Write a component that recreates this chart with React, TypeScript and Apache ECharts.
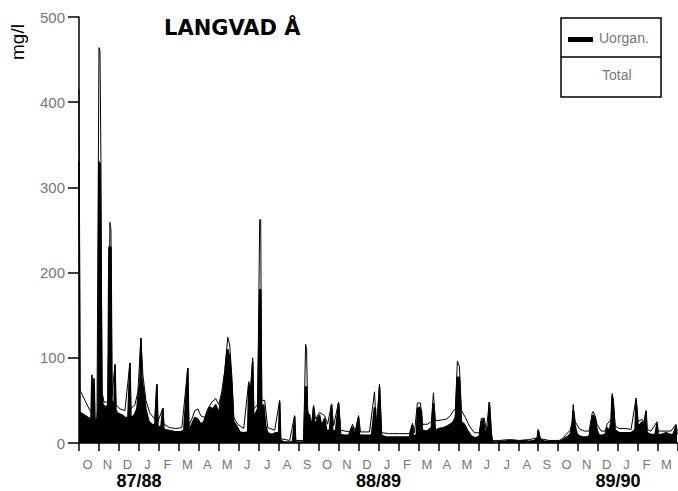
import React, { useEffect, useRef } from "react";
import * as echarts from "echarts";

// x values are months counted from 1 Oct 1987
const monthLabels = [
  "O", "N", "D", "J", "F", "M", "A", "M", "J", "J", "A", "S",
  "O", "N", "D", "J", "F", "M", "A", "M", "J", "J", "A", "S",
  "O", "N", "D", "J", "F", "M",
];
const yearLabels = ["87/88", "88/89", "89/90"];
const yearStarts = [3, 15, 27];
const yTicks = [0, 100, 200, 300, 400, 500];
const seriesNames = ["Uorgan.", "Total"];
const titleText = "LANGVAD Å";
const unitText = "mg/l";

const uorgan8788: number[][] = [
  [0, 330], [0.05, 36], [0.25, 33], [0.45, 30], [0.6, 28], [0.65, 80], [0.7, 30], [0.75, 76], [0.8, 28], [0.9, 27], [0.95, 40],
  [1.0, 330], [1.05, 328], [1.1, 200], [1.15, 60], [1.2, 45], [1.35, 42], [1.45, 45], [1.5, 230], [1.55, 230], [1.6, 230], [1.65, 50],
  [1.75, 40], [1.8, 92], [1.85, 38], [1.95, 35], [2.15, 33], [2.3, 30], [2.45, 30], [2.55, 94], [2.6, 30], [2.75, 32], [2.9, 40],
  [3.0, 65], [3.05, 70], [3.1, 123], [3.15, 75], [3.25, 60], [3.35, 40], [3.5, 25], [3.65, 22], [3.8, 21], [3.9, 69], [3.95, 20],
  [4.1, 18], [4.2, 41], [4.25, 16], [4.45, 15], [4.65, 14], [4.85, 13], [5.05, 13], [5.25, 15], [5.45, 88], [5.5, 15], [5.65, 22],
  [5.8, 30], [5.95, 28], [6.1, 22], [6.25, 25], [6.4, 35], [6.55, 42], [6.7, 40], [6.85, 45], [7.0, 35], [7.1, 50], [7.2, 60],
  [7.3, 80], [7.4, 105], [7.45, 110], [7.55, 100], [7.65, 70], [7.75, 25], [7.9, 20], [8.05, 13], [8.25, 12], [8.45, 13],
  [8.5, 68], [8.6, 60], [8.7, 95], [8.75, 30], [8.85, 35], [8.95, 40], [9.05, 180], [9.1, 180], [9.15, 40], [9.25, 45], [9.35, 20],
  [9.45, 12], [9.65, 10], [9.85, 12], [10.0, 12], [10.05, 48], [10.1, 3], [10.3, 1], [10.55, 1], [10.7, 2], [10.8, 31], [10.85, 1],
  [11.05, 1], [11.25, 1], [11.35, 66], [11.4, 66], [11.45, 33], [11.55, 33], [11.65, 15], [11.75, 42], [11.8, 20], [11.95, 29],
];
const uorgan8889: number[][] = [
  [12.05, 33], [12.15, 20], [12.3, 29], [12.4, 15], [12.55, 15], [12.65, 45], [12.7, 15], [12.85, 14], [13.0, 47], [13.1, 10],
  [13.3, 9], [13.5, 9], [13.7, 19], [13.8, 9], [14.0, 30], [14.05, 9], [14.25, 9], [14.45, 9], [14.65, 9], [14.8, 42], [14.85, 40],
  [14.9, 9], [15.05, 66], [15.15, 9], [15.35, 7], [15.55, 7], [15.8, 7], [16.05, 7], [16.3, 7], [16.55, 7], [16.7, 21], [16.75, 7],
  [16.9, 10], [16.95, 40], [17.05, 42], [17.15, 38], [17.2, 15], [17.35, 14], [17.5, 15], [17.65, 18], [17.75, 47], [17.85, 15],
  [18.05, 17], [18.25, 18], [18.45, 20], [18.6, 22], [18.75, 25], [18.85, 30], [18.95, 77], [19.05, 77], [19.15, 25], [19.3, 22],
  [19.45, 15], [19.65, 8], [19.85, 6], [20.05, 8], [20.15, 25], [20.25, 28], [20.35, 10], [20.5, 20], [20.55, 48], [20.65, 10],
  [20.7, 1], [20.9, 1], [21.05, 2], [21.3, 2], [21.55, 3], [21.8, 3], [22.05, 2], [22.3, 3], [22.55, 2], [22.8, 3], [22.95, 5],
  [23.0, 15], [23.1, 4], [23.3, 2], [23.55, 2], [23.8, 2],
];
const uorgan8990: number[][] = [
  [24.05, 2], [24.2, 3], [24.35, 6], [24.5, 8], [24.6, 10], [24.7, 20], [24.75, 38], [24.85, 20], [24.95, 10], [25.1, 8],
  [25.25, 7], [25.4, 7], [25.55, 8], [25.7, 28], [25.75, 33], [25.85, 28], [25.95, 15], [26.05, 9], [26.2, 9], [26.35, 10],
  [26.45, 18], [26.55, 14], [26.65, 25], [26.7, 55], [26.75, 50], [26.85, 15], [27.05, 12], [27.25, 12], [27.45, 12], [27.65, 12],
  [27.85, 15], [27.9, 50], [28.0, 20], [28.1, 22], [28.2, 25], [28.3, 20], [28.4, 37], [28.45, 12], [28.65, 10], [28.85, 10],
  [28.95, 23], [29.0, 10], [29.2, 10], [29.4, 12], [29.6, 10], [29.75, 10], [29.9, 20], [29.95, 10],
];

const total8788: number[][] = [
  [0, 415], [0.05, 62], [0.3, 50], [0.55, 38], [0.8, 28], [0.9, 26], [1.0, 464], [1.05, 460], [1.1, 330], [1.15, 60], [1.25, 48],
  [1.45, 48], [1.55, 259], [1.6, 250], [1.65, 55], [1.8, 92], [1.85, 45], [2.05, 40], [2.3, 38], [2.55, 94], [2.6, 40], [2.8, 45],
  [2.95, 60], [3.1, 123], [3.2, 80], [3.35, 50], [3.55, 35], [3.8, 28], [3.9, 69], [3.95, 25], [4.2, 41], [4.25, 22], [4.55, 18],
  [4.85, 17], [5.15, 18], [5.45, 88], [5.5, 20], [5.65, 28], [5.8, 38], [5.95, 40], [6.1, 32], [6.3, 30], [6.45, 40], [6.65, 48],
  [6.85, 52], [7.0, 45], [7.15, 60], [7.3, 85], [7.45, 124], [7.55, 115], [7.65, 80], [7.75, 30], [7.95, 22], [8.25, 17],
  [8.5, 72], [8.6, 65], [8.7, 100], [8.75, 40], [8.95, 45], [9.05, 262], [9.1, 262], [9.15, 50], [9.3, 50], [9.45, 18], [9.8, 15],
  [10.05, 50], [10.1, 5], [10.55, 3], [10.8, 32], [10.85, 3], [11.25, 3], [11.35, 116], [11.4, 110], [11.45, 38], [11.65, 22],
  [11.75, 44], [11.85, 28],
];
const total8889: number[][] = [
  [12.05, 36], [12.3, 32], [12.45, 22], [12.65, 46], [12.75, 20], [13.0, 48], [13.1, 15], [13.55, 13], [13.7, 22], [13.85, 13],
  [14.0, 32], [14.1, 13], [14.55, 13], [14.8, 60], [14.9, 13], [15.05, 69], [15.15, 12], [15.55, 11], [16.05, 11], [16.55, 11],
  [16.7, 23], [16.8, 12], [16.95, 47], [17.1, 47], [17.2, 22], [17.45, 22], [17.65, 25], [17.75, 59], [17.85, 26], [18.15, 27],
  [18.4, 28], [18.6, 32], [18.75, 38], [18.85, 40], [18.95, 96], [19.05, 90], [19.15, 38], [19.35, 30], [19.55, 20], [19.8, 12],
  [20.05, 12], [20.15, 29], [20.3, 29], [20.4, 15], [20.55, 48], [20.65, 12], [20.7, 3], [21.05, 3], [21.55, 4], [22.05, 3],
  [22.55, 4], [22.95, 6], [23.0, 16], [23.1, 5], [23.55, 3],
];
const total8990: number[][] = [
  [24.05, 3], [24.2, 5], [24.4, 10], [24.6, 15], [24.7, 25], [24.75, 45], [24.85, 25], [25.05, 17], [25.3, 14], [25.55, 14],
  [25.7, 35], [25.75, 37], [25.85, 32], [25.95, 22], [26.15, 14], [26.35, 14], [26.45, 22], [26.65, 28], [26.7, 58], [26.75, 52],
  [26.85, 20], [27.05, 17], [27.35, 17], [27.65, 16], [27.9, 53], [28.0, 25], [28.2, 28], [28.3, 24], [28.4, 38], [28.45, 16],
  [28.65, 14], [28.95, 25], [29.0, 14], [29.3, 14], [29.65, 14], [29.9, 22], [29.95, 14],
];

export default function App() {
  const ref = useRef<HTMLDivElement>(null);
  useEffect(() => {
    if (!ref.current) return;
    const chart = echarts.init(ref.current, null, { renderer: "svg" });
    const uorgan = [...uorgan8788, ...uorgan8889, ...uorgan8990];
    const total = [...total8788, ...total8889, ...total8990];
    const faint = "#777";
    chart.setOption({
      animation: false,
      backgroundColor: "#fff",
      title: {
        text: titleText,
        left: 159,
        top: 12,
        textStyle: { fontFamily: "DejaVu Sans", fontWeight: "bold", fontSize: 21, color: "#000" },
      },
      grid: { left: 79, right: 0, top: 17, bottom: 48, containLabel: false },
      xAxis: [
        {
          type: "value",
          min: 0,
          max: 30,
          interval: 1,
          axisLine: { show: true, lineStyle: { color: "#000", width: 1.5 } },
          axisTick: { show: true, length: 8, lineStyle: { color: "#000", width: 1.5 } },
          axisLabel: { show: false },
          splitLine: { show: false },
        },
        {
          type: "category",
          data: monthLabels,
          position: "bottom",
          boundaryGap: true,
          axisLine: { show: false },
          axisTick: { show: false },
          splitLine: { show: false },
          axisLabel: { interval: 0, margin: 15, color: faint, fontSize: 13, fontFamily: "Liberation Sans", padding: [0, 3, 0, 0] },
        },
        {
          type: "value",
          min: 0,
          max: 30,
          position: "bottom",
          axisLine: { show: false },
          axisTick: { show: false },
          splitLine: { show: false },
          axisLabel: {
            customValues: yearStarts,
            formatter: (v: number) => {
              const i = yearStarts.indexOf(v);
              return i >= 0 ? yearLabels[i] : "";
            },
            margin: 29,
            color: "#000",
            fontSize: 18,
            fontWeight: "bold",
            fontFamily: "Liberation Sans",
          },
        },
      ],
      yAxis: {
        type: "value",
        min: yTicks[0],
        max: yTicks[yTicks.length - 1],
        interval: 100,
        axisLine: { show: true, lineStyle: { color: "#000", width: 1.5 } },
        axisTick: { show: true, length: 11, lineStyle: { color: "#000", width: 1.5 } },
        axisLabel: { margin: 14, color: faint, fontSize: 15, fontFamily: "Liberation Sans" },
        splitLine: { show: false },
      },
      series: [
        {
          name: seriesNames[0],
          type: "line",
          xAxisIndex: 0,
          data: uorgan,
          showSymbol: false,
          symbol: "none",
          lineStyle: { color: "#000", width: 1.6 },
          areaStyle: { color: "#000", opacity: 1 },
          z: 2,
        },
        {
          name: seriesNames[1],
          type: "line",
          xAxisIndex: 0,
          data: total,
          showSymbol: false,
          symbol: "none",
          lineStyle: { color: "#000", width: 1 },
          z: 3,
        },
      ],
      graphic: [
        {
          type: "text",
          x: 17,
          y: 42,
          rotation: Math.PI / 2,
          style: { text: unitText, align: "center", verticalAlign: "middle", font: "19px Liberation Sans", fill: "#000" },
        },
        {
          type: "rect",
          shape: { x: 561, y: 18, width: 100, height: 79 },
          style: { fill: "#fff", stroke: "#000", lineWidth: 1.5 },
        },
        {
          type: "line",
          shape: { x1: 561, y1: 57, x2: 661, y2: 57 },
          style: { stroke: "#000", lineWidth: 1.5 },
        },
        {
          type: "rect",
          shape: { x: 568, y: 37, width: 25, height: 5 },
          style: { fill: "#000" },
        },
        {
          type: "text",
          x: 599,
          y: 38,
          style: { text: seriesNames[0], verticalAlign: "middle", font: "14px Liberation Sans", fill: faint },
        },
        {
          type: "text",
          x: 602,
          y: 75,
          style: { text: seriesNames[1], verticalAlign: "middle", font: "14px Liberation Sans", fill: faint },
        },
      ],
    });
    return () => chart.dispose();
  }, []);
  return <div ref={ref} style={{ position: "fixed", left: 0, top: 0, width: 678, height: 491 }} />;
}
